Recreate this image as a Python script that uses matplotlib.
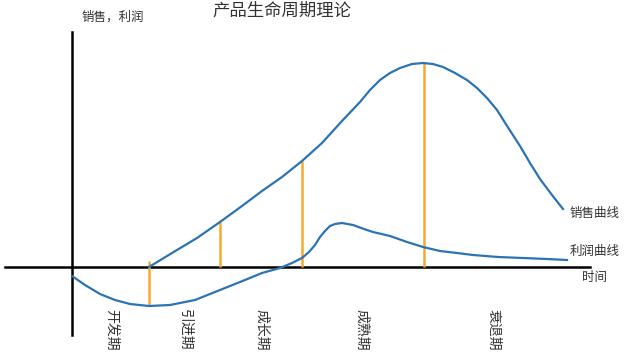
import matplotlib
matplotlib.use("Agg")
import matplotlib.pyplot as plt

plt.rcParams['font.family'] = ['Noto Sans CJK SC', 'DejaVu Sans']

# dados (x = tempo, y = valor; origem no cruzamento dos eixos)
vendas_x = [77, 100, 125, 148, 170, 190, 210, 230, 250, 270, 288, 298, 308, 318, 328, 340, 351,
            361, 371, 383, 395, 405, 415, 425, 437, 448, 458, 468, 480, 491]
vendas_y = [0, 14, 29, 45, 61, 76, 90, 106, 124, 146, 165, 177, 187, 194, 199, 203, 204,
            203, 200, 194, 187, 179, 169, 157, 138, 121, 104, 88, 72, 58]

lucro_x = [0, 13, 28, 43, 58, 77, 98, 123, 148, 173, 190, 208, 220, 230, 237, 243, 248, 253,
           258, 263, 270, 281, 292, 301, 318, 335, 351, 368, 385, 401, 426, 451, 475, 495]
lucro_y = [-9, -18, -27, -33, -37, -39, -38, -33, -23, -13, -6, -1, 4, 9, 15, 22, 30, 36,
           41, 43, 44, 42, 38, 35, 31, 25, 20, 16, 14, 12, 10, 9, 8, 7]

fronteiras_x = [77, 148, 230, 352]
fronteiras_base = [-39, 0, 0, 0]
fronteiras_topo = [6, 45, 106, 204]

fases = ["开发期", "引进期", "成长期", "成熟期", "衰退期"]
fases_x = [39, 113, 190, 290, 422]

AZUL = "#2b73b4"
LARANJA = "#f5a833"
TEXTO = "#333333"

fig = plt.figure(figsize=(6.35, 3.57), dpi=100)
ax = fig.add_axes([0, 0, 1, 1])
ax.set_xlim(-72, 563)
ax.set_ylim(-90, 267)
ax.axis("off")

# eixos
ax.plot([0, 0], [-68, 235], color="black", lw=1.8)
ax.plot([-67, 518], [0, 0], color="black", lw=1.8)

ax.vlines(fronteiras_x, fronteiras_base, fronteiras_topo, color=LARANJA, lw=1.8, zorder=2)
ax.plot(vendas_x, vendas_y, color=AZUL, lw=1.6, zorder=3, solid_joinstyle="round")
ax.plot(lucro_x, lucro_y, color=AZUL, lw=1.6, zorder=3, solid_joinstyle="round")

ax.text(210, 256, "产品生命周期理论", fontsize=12.5, ha="center", va="center", color=TEXTO)
ax.text(10, 250, "销售，利润", fontsize=9, ha="left", va="center", color=TEXTO)
ax.text(498, 53, "销售曲线", fontsize=9, ha="left", va="center", color=TEXTO)
ax.text(498, 16, "利润曲线", fontsize=9, ha="left", va="center", color=TEXTO)
ax.text(510, -11, "时间", fontsize=9, ha="left", va="center", color=TEXTO)

for nome, xf in zip(fases, fases_x):
    ax.text(xf, -42, nome, fontsize=10, rotation=-90, ha="center", va="top", color=TEXTO)

fig.savefig("out.png", dpi=100)
